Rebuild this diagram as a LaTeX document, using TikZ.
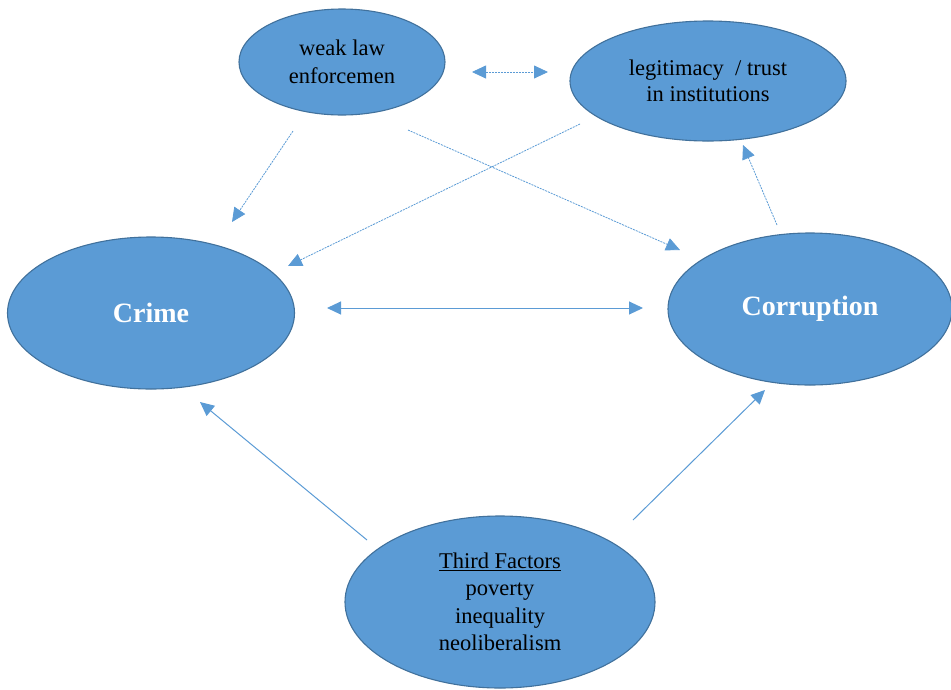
\documentclass[tikz,border=0pt]{standalone}
\usepackage{fontspec}
\setmainfont{Liberation Serif}
\usetikzlibrary{arrows.meta,shapes.geometric}
\definecolor{efill}{HTML}{5B9BD5}
\definecolor{edraw}{HTML}{41719C}
\definecolor{aline}{HTML}{5B9BD5}
\begin{document}
\begin{tikzpicture}[x=1pt,y=-1pt,
  bubble/.style={ellipse,fill=efill,draw=edraw,line width=1.1pt,inner sep=0pt,align=center},
  smalltxt/.style={font=\fontsize{22.5}{27.5}\selectfont,text=black},
  legittxt/.style={font=\fontsize{22.5}{25.5}\selectfont,text=black},
  bigtxt/.style={font=\fontsize{28}{32}\selectfont\bfseries,text=white},
  tip/.style={-{Triangle[length=14pt,width=13pt]}},
  dashedarrow/.style={draw=aline,line width=0.8pt,dash pattern=on 2pt off 1pt},
  solidarrow/.style={draw=aline,line width=1pt}
]
\useasboundingbox (0,0) rectangle (951,689);
\node[bubble,smalltxt,minimum width=206pt,minimum height=106pt] (weak) at (342,62) {weak law\\enforcemen};
\node[bubble,legittxt,minimum width=276pt,minimum height=120pt] (legit) at (708,81) {legitimacy\ \ / trust\\in institutions};
\node[bubble,bigtxt,minimum width=287pt,minimum height=152pt] (crime) at (151,313) {Crime};
\node[bubble,bigtxt,minimum width=284pt,minimum height=152pt] (corr) at (810,309) {Corruption};
\node[bubble,smalltxt,minimum width=310pt,minimum height=172pt] (third) at (500,602) {\underline{Third Factors}\\poverty\\inequality\\neoliberalism};
\coordinate (a1) at (472,72); \coordinate (a2) at (548,72);
\coordinate (b1) at (293,131); \coordinate (b2) at (232,222);
\coordinate (c1) at (408,130); \coordinate (c2) at (680,250);
\coordinate (d1) at (580,124); \coordinate (d2) at (288,266);
\coordinate (e1) at (777,225); \coordinate (e2) at (743,145);
\coordinate (f1) at (327,308); \coordinate (f2) at (643,308);
\coordinate (g1) at (367,540); \coordinate (g2) at (200,402);
\coordinate (h1) at (633,520); \coordinate (h2) at (765,390);
\draw[dashedarrow,{Triangle[length=14pt,width=13pt]}-{Triangle[length=14pt,width=13pt]}] (a1) -- (a2);
\draw[dashedarrow,tip] (b1) -- (b2);
\draw[dashedarrow,tip] (c1) -- (c2);
\draw[dashedarrow,tip] (d1) -- (d2);
\draw[dashedarrow,tip] (e1) -- (e2);
\draw[solidarrow,{Triangle[length=14pt,width=13pt]}-{Triangle[length=14pt,width=13pt]}] (f1) -- (f2);
\draw[solidarrow,tip] (g1) -- (g2);
\draw[solidarrow,tip] (h1) -- (h2);
\end{tikzpicture}
\end{document}
